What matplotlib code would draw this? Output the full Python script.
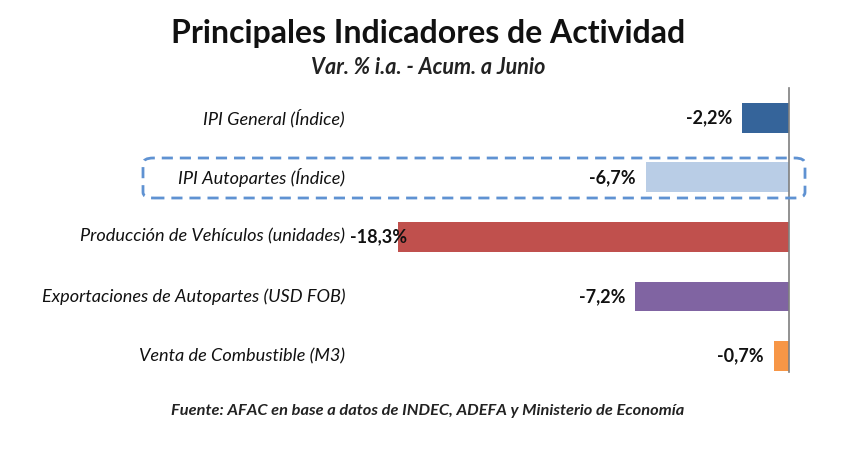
import matplotlib.pyplot as plt
from matplotlib.patches import FancyBboxPatch

# ---- data ----
categories = [
    "IPI General (Índice)",
    "IPI Autopartes (Índice)",
    "Producción de Vehículos (unidades)",
    "Exportaciones de Autopartes (USD FOB)",
    "Venta de Combustible (M3)",
]
values = [-2.2, -6.7, -18.3, -7.2, -0.7]
value_labels = ["-2,2%", "-6,7%", "-18,3%", "-7,2%", "-0,7%"]

title = "Principales Indicadores de Actividad"
subtitle = "Var. % i.a. - Acum. a Junio"
source = "Fuente: AFAC en base a datos de INDEC, ADEFA y Ministerio de Economía"

# ---- style ----
colors = ["#35649a", "#b9cde6", "#c0504d", "#8064a2", "#f79646"]
label_dx = [-10, -10, 9, -10, -10]   # px offset of value labels from bar start
font = ["Lato", "DejaVu Sans"]
plt.rcParams["font.family"] = font

W, H = 860, 474
fig = plt.figure(figsize=(W / 100, H / 100), dpi=100)
fig.patch.set_facecolor("white")

def px(x0, y0, x1, y1):
    return [x0 / W, 1 - y1 / H, (x1 - x0) / W, (y1 - y0) / H]

ax = fig.add_axes(px(40, 88, 789, 372))
ypos = list(range(len(values)))
ax.barh(ypos, values, height=0.5, color=colors, zorder=2)
ax.set_xlim(-35.05, 0)
ax.set_ylim(4.27, -0.5)
ax.axvline(0, color="#7f7f7f", lw=1.2, zorder=3, clip_on=False)
for s in ax.spines.values():
    s.set_visible(False)
ax.set_xticks([])
ax.set_yticks([])
ax.patch.set_alpha(0)

# category labels (right aligned at px 345)
for y, c in zip(ypos, categories):
    ax.annotate(c, xy=(0, y), xycoords=("axes fraction", "data"),
                xytext=(345 - 40, 0), textcoords="offset pixels",
                ha="right", va="center", fontsize=13.1, style="italic",
                color="#111111")

# value labels
for y, v, lab, dx in zip(ypos, values, value_labels, label_dx):
    ax.annotate(lab, xy=(v, y), xytext=(dx, 0), textcoords="offset pixels",
                ha="right", va="center", fontsize=13, fontweight="bold",
                color="#111111", zorder=4)

# dashed highlight around row 2
box = FancyBboxPatch((143 / W, 1 - 198 / H), (805 - 143) / W, (198 - 158) / H,
                     boxstyle="round,pad=0,rounding_size=0.012",
                     transform=fig.transFigure, fill=False,
                     edgecolor="#5f92d2", lw=2, ls=(0, (4, 2.5)), zorder=5)
fig.patches.append(box)

fig.text(428 / W, 1 - 33 / H, title, ha="center", va="center",
         fontsize=23, fontweight="bold", color="#111111")
fig.text(428 / W, 1 - 68 / H, subtitle, ha="center", va="center",
         fontsize=15.5, fontweight="bold", style="italic", color="#222222")
fig.text(428 / W, 1 - 411 / H, source, ha="center", va="center",
         fontsize=11.8, fontweight="bold", style="italic", color="#222222")

fig.savefig("out.png", dpi=100)
